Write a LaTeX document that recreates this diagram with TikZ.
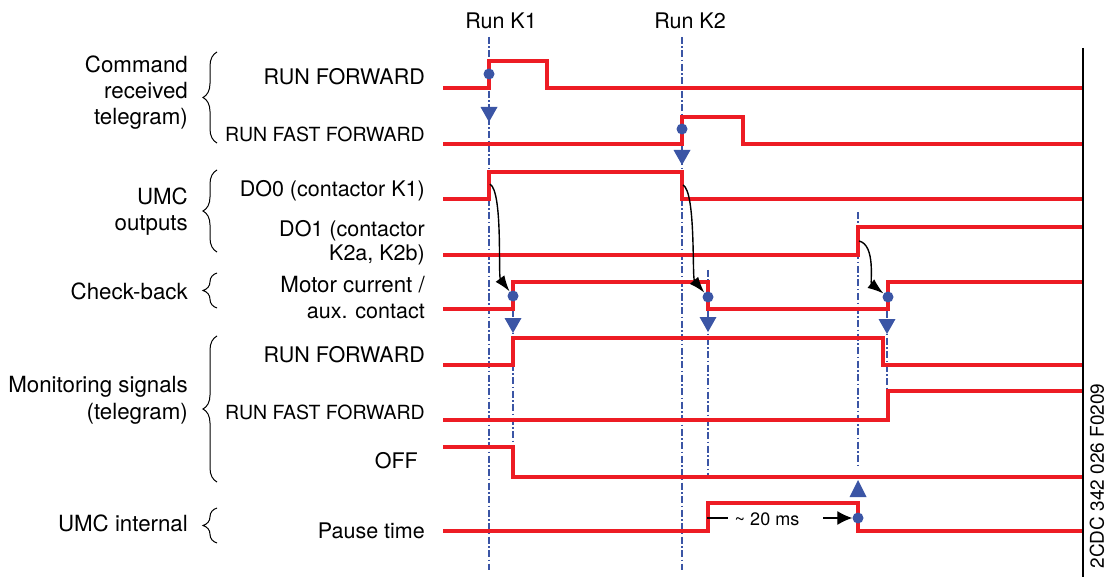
\documentclass[tikz,border=0pt]{standalone}
\usepackage{fontspec}
\setmainfont{TeX Gyre Heros}
\usetikzlibrary{arrows.meta,decorations.pathreplacing}
\definecolor{sigred}{HTML}{ED1C24}
\definecolor{mblue}{HTML}{3B55A5}
\begin{document}
\begin{tikzpicture}[x=1pt,y=-1pt,
  sig/.style={draw=sigred, line width=4.5pt},
  guide/.style={draw=mblue, line width=1.3pt, dash pattern=on 7pt off 2.5pt on 1.5pt off 2.5pt},
  lbl/.style={font=\fontsize{21.5}{24}\selectfont, inner sep=0pt, anchor=base east},
  glbl/.style={font=\fontsize{22.3}{24}\selectfont, inner sep=0pt, anchor=base east},
  lbls/.style={font=\fontsize{19.5}{22}\selectfont, inner sep=0pt, anchor=base east},
  grp/.style={draw, decorate, decoration={brace, amplitude=14pt}, line width=1pt},
  causal/.style={draw, -{Latex[length=16pt,width=11pt]}, line width=1.4pt},
  bdot/.style={circle, fill=mblue, inner sep=0pt, minimum size=11pt},
  tri/.style={fill=mblue}]
\useasboundingbox (0,0) rectangle (1108,577);

% guide lines
\draw[guide] (489,37) -- (489,570);
\draw[guide] (682,37) -- (682,570);
\draw[guide] (513,296) -- (513,447);
\draw[guide] (708,270) -- (708,477);
\draw[guide] (858,212) -- (858,465);
\draw[guide] (887,297) -- (887,419);

% signals
\draw[sig] (443,88) -- (489,88) -- (489,61) -- (547,61) -- (547,88) -- (1083,88);
\draw[sig] (443,144) -- (682,144) -- (682,117) -- (743,117) -- (743,144) -- (1083,144);
\draw[sig] (443,199) -- (489,199) -- (489,172) -- (682,172) -- (682,199) -- (1083,199);
\draw[sig] (443,255) -- (858,255) -- (858,227) -- (1083,227);
\draw[sig] (443,309) -- (513,309) -- (513,282) -- (708,282) -- (708,309) -- (888,309) -- (888,282) -- (1083,282);
\draw[sig] (443,365) -- (513,365) -- (513,338) -- (883,338) -- (883,365) -- (1083,365);
\draw[sig] (443,420) -- (888,420) -- (888,391) -- (1083,391);
\draw[sig] (443,447) -- (513,447) -- (513,477) -- (1083,477);
\draw[sig] (443,531) -- (708,531) -- (708,503) -- (858,503) -- (858,531) -- (1083,531);

% end bar
\draw[line width=1.8pt] (1083,48) -- (1083,577);

% triangles
\fill[tri] (480.5,107) -- (497.5,107) -- (489,122) -- cycle;
\fill[tri] (673.5,150) -- (690.5,150) -- (682,165) -- cycle;
\fill[tri] (504.5,318) -- (521.5,318) -- (513,333) -- cycle;
\fill[tri] (699.5,317) -- (716.5,317) -- (708,332) -- cycle;
\fill[tri] (878.5,319) -- (895.5,319) -- (887,334) -- cycle;
\fill[tri] (849.5,497) -- (866.5,497) -- (858,480) -- cycle;

% dots
\node[bdot] (d1) at (489,74) {};
\node[bdot] (d2) at (682,129) {};
\node[bdot] (d3) at (513,296) {};
\node[bdot] (d4) at (708,297) {};
\node[bdot] (d5) at (888,297) {};
\node[bdot] (d6) at (858,518) {};

% causal arrows
\coordinate (s1) at (490,184);
\coordinate (s2) at (683,185);
\coordinate (s3) at (859,241);
\draw[causal] (s1) .. controls (503,192) and (498,276) .. (d3);
\draw[causal] (s2) .. controls (696,192) and (692,278) .. (d4);
\draw[causal] (s3) .. controls (876,245) and (870,283) .. (d5);

% pause time dimension
\coordinate (p0) at (707,518);
\coordinate (p1) at (728,518);
\draw[line width=1.3pt] (p0) -- (p1);
\node[font=\fontsize{18}{20}\selectfont, inner sep=0pt] (pt) at (767,519) {\textasciitilde{} 20 ms};
\coordinate (p2) at (823,518);
\draw[line width=1.3pt, -{Latex[length=15pt,width=14pt]}] (p2) -- (d6);

% top labels
\node[font=\fontsize{21.5}{24}\selectfont, inner sep=0pt, anchor=base] (k1) at (501,29) {Run K1};
\node[font=\fontsize{21.5}{24}\selectfont, inner sep=0pt, anchor=base] (k2) at (690,29) {Run K2};

% signal labels
\node[lbl] (l1) at (425,85) {RUN FORWARD};
\node[lbls] (l2) at (425,142) {RUN FAST FORWARD};
\node[lbl] (l3) at (425,197) {DO0 (contactor K1)};
\node[lbl] (l4a) at (425,237) {DO1 (contactor};
\node[lbl] (l4b) at (425,261) {K2a, K2b)};
\node[glbl] (l5a) at (425,293) {Motor current /};
\node[lbl] (l5b) at (425,318) {aux. contact};
\node[lbl] (l6) at (425,362) {RUN FORWARD};
\node[lbls] (l7) at (425,419) {RUN FAST FORWARD};
\node[lbl] (l8) at (418,468) {OFF};
\node[lbl] (l9) at (425,538) {Pause time};

% group labels
\node[glbl] (g1a) at (188,73) {Command};
\node[glbl] (g1b) at (188,99) {received};
\node[glbl] (g1c) at (188,125) {telegram)};
\node[glbl] (g2a) at (188,205) {UMC};
\node[glbl] (g2b) at (188,231) {outputs};
\node[glbl] (g3) at (188,299) {Check-back};
\node[glbl] (g4a) at (188,392) {Monitoring signals};
\node[glbl] (g4b) at (188,419) {(telegram)};
\node[glbl] (g5) at (188,531) {UMC internal};

% braces
\draw[grp] (217,143) -- (217,52);
\draw[grp] (217,252) -- (217,170);
\draw[grp] (217,308) -- (217,273);
\draw[grp] (217,482) -- (217,336);
\draw[grp] (217,543) -- (217,508);

% figure code
\node[font=\fontsize{19}{20}\selectfont, inner sep=0pt, rotate=90] (code) at (1097,476) {2CDC 342 026 F0209};
\end{tikzpicture}
\end{document}
